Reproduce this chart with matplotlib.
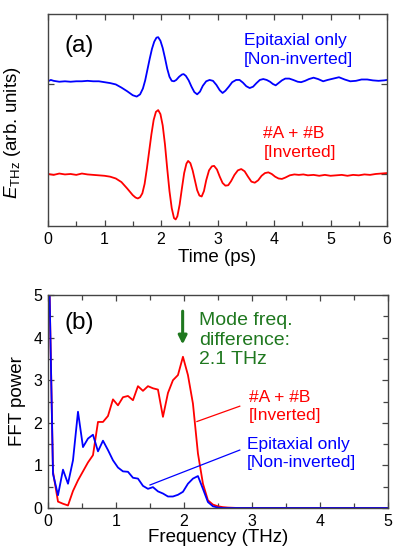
import numpy as np
import matplotlib
matplotlib.use("Agg")
import matplotlib.pyplot as plt
from matplotlib.ticker import MultipleLocator, FixedLocator

plt.rcParams['font.family'] = ['Liberation Sans', 'DejaVu Sans']
plt.rcParams['mathtext.fontset'] = 'custom'
plt.rcParams['mathtext.rm'] = 'Liberation Sans'
plt.rcParams['mathtext.it'] = 'Liberation Sans:italic'

# ---------------- Panel (a): time-domain waveforms ----------------
time_red = [0.00, 0.10, 0.20, 0.30, 0.40, 0.50, 0.60, 0.70, 0.80, 0.90, 1.00, 1.10, 1.20, 1.30,
            1.40, 1.50, 1.55, 1.59, 1.63, 1.67, 1.71, 1.75, 1.79, 1.83, 1.87, 1.91, 1.95, 1.99,
            2.03, 2.07, 2.11, 2.15, 2.19, 2.23, 2.26, 2.29, 2.33, 2.37, 2.41, 2.45, 2.48, 2.52,
            2.56, 2.60, 2.64, 2.68, 2.72, 2.76, 2.80, 2.85, 2.90, 2.94, 2.99, 3.04, 3.09, 3.14,
            3.19, 3.24, 3.30, 3.36, 3.42, 3.48, 3.54, 3.60, 3.66, 3.72, 3.78, 3.84, 3.90, 3.96,
            4.02, 4.08, 4.14, 4.20, 4.28, 4.36, 4.44, 4.52, 4.60, 4.70, 4.80, 4.90, 5.00, 5.10,
            5.20, 5.30, 5.40, 5.50, 5.60, 5.70, 5.80, 5.90, 6.00]
e_red = [0.00, -0.01, 0.005, -0.005, 0.00, -0.01, 0.005, -0.005, -0.01, -0.015, -0.02, -0.03,
         -0.05, -0.09, -0.16, -0.235, -0.262, -0.272, -0.258, -0.215, -0.11, 0.06, 0.25, 0.44,
         0.60, 0.69, 0.71, 0.665, 0.54, 0.33, 0.06, -0.19, -0.38, -0.49, -0.505, -0.47, -0.34,
         -0.16, 0.01, 0.115, 0.145, 0.12, 0.04, -0.07, -0.18, -0.24, -0.25, -0.19, -0.07, 0.04,
         0.085, 0.09, 0.05, -0.03, -0.10, -0.13, -0.125, -0.08, -0.01, 0.04, 0.055, 0.03, -0.03,
         -0.085, -0.097, -0.07, -0.02, 0.01, 0.018, 0.0, -0.03, -0.05, -0.055, -0.04, -0.015,
         -0.005, -0.01, -0.005, -0.015, -0.01, -0.02, -0.01, -0.02, -0.015, -0.01, -0.02, -0.01,
         -0.015, -0.005, -0.01, 0.0, 0.005, 0.01]

time_blue = [0.00, 0.05, 0.10, 0.20, 0.30, 0.40, 0.50, 0.60, 0.70, 0.80, 0.90, 1.00, 1.10, 1.20,
             1.30, 1.40, 1.50, 1.57, 1.63, 1.68, 1.72, 1.76, 1.80, 1.84, 1.88, 1.92, 1.95, 1.99,
             2.03, 2.07, 2.11, 2.15, 2.19, 2.23, 2.27, 2.32, 2.37, 2.40, 2.44, 2.49, 2.54, 2.59,
             2.64, 2.69, 2.74, 2.80, 2.86, 2.92, 2.98, 3.04, 3.09, 3.14, 3.20, 3.26, 3.33, 3.39,
             3.45, 3.51, 3.57, 3.63, 3.69, 3.75, 3.81, 3.87, 3.93, 3.98, 4.03, 4.08, 4.14, 4.20,
             4.27, 4.34, 4.42, 4.48, 4.55, 4.62, 4.70, 4.78, 4.87, 4.95, 5.05, 5.15, 5.25, 5.35,
             5.45, 5.55, 5.65, 5.75, 5.85, 5.95, 6.00]
e_blue = [0.03, 0.045, 0.035, 0.025, 0.03, 0.025, 0.03, 0.03, 0.035, 0.03, 0.03, 0.02, 0.01,
          -0.005, -0.04, -0.08, -0.125, -0.14, -0.115, -0.05, 0.04, 0.16, 0.28, 0.39, 0.47,
          0.515, 0.52, 0.48, 0.40, 0.29, 0.17, 0.08, 0.035, 0.03, 0.045, 0.08, 0.105, 0.11, 0.09,
          0.04, -0.03, -0.09, -0.115, -0.085, -0.02, 0.03, 0.045, 0.035, -0.01, -0.07, -0.10,
          -0.075, -0.03, 0.02, 0.045, 0.045, 0.015, -0.025, -0.045, -0.03, 0.01, 0.045, 0.055,
          0.045, 0.025, 0.0, -0.015, 0.01, 0.04, 0.06, 0.06, 0.045, 0.025, 0.02, 0.035, 0.055,
          0.07, 0.055, 0.03, 0.045, 0.06, 0.075, 0.05, 0.03, 0.035, 0.05, 0.05, 0.04, 0.035,
          0.04, 0.045]
blue_offset = 1.0

# ---------------- Panel (b): FFT power spectra ----------------
freq = [0.0, 0.0735, 0.147, 0.2205, 0.294, 0.3675, 0.441, 0.5145, 0.588, 0.6615, 0.735,
        0.8085, 0.882, 0.9555, 1.029, 1.1025, 1.176, 1.2495, 1.323, 1.3965, 1.47, 1.5435,
        1.617, 1.6905, 1.764, 1.8375, 1.911, 1.9845, 2.058, 2.1315, 2.205, 2.2785, 2.352,
        2.4255, 2.499, 2.5725, 2.646, 2.7195, 2.793, 5.0]
fft_red = [7.0, 0.85, 0.15, 0.10, 0.06, 0.40, 0.65, 0.86, 1.07, 1.24, 2.02, 2.02, 2.16, 2.55,
           2.41, 2.60, 2.63, 2.53, 2.86, 2.75, 2.86, 2.81, 2.78, 2.14, 2.70, 3.00, 3.12, 3.55,
           3.12, 2.45, 1.28, 0.57, 0.18, 0.08, 0.04, 0.02, 0.01, 0.005, 0.0, 0.0]
fft_blue = [7.0, 0.80, 0.30, 0.90, 0.57, 1.12, 2.26, 1.43, 1.63, 1.72, 1.33, 1.58, 1.36, 1.12,
            0.95, 0.86, 0.85, 0.71, 0.69, 0.52, 0.45, 0.49, 0.39, 0.34, 0.27, 0.27, 0.31, 0.38,
            0.57, 0.69, 0.75, 0.45, 0.14, 0.04, 0.01, 0.0, 0.0, 0.0, 0.0, 0.0]

RED = '#ff0000'
BLUE = '#0000ff'
GREEN = '#1f781f'
SPINE = '#444444'

fig = plt.figure(figsize=(3.93, 5.52), dpi=100)
axa = fig.add_axes([48/393, 1-226/552, 339/393, 212.3/552])
axb = fig.add_axes([48/393, 1-508/552, 340/393, 213/552])

def style(ax):
    for s in ax.spines.values():
        s.set_color(SPINE)
        s.set_linewidth(1.0)
    ax.tick_params(which='both', direction='in', top=True, right=True,
                   color=SPINE, width=0.9, labelsize=11.5, pad=4)
    ax.tick_params(which='major', length=4)
    ax.tick_params(which='minor', length=3.5)

# Panel (a)
axa.plot(time_blue, np.array(e_blue) + blue_offset, color=BLUE, lw=1.3)
axa.plot(time_red, e_red, color=RED, lw=1.3)
axa.set_xlim(0, 6)
axa.set_ylim(-0.578, 1.781)
axa.xaxis.set_major_locator(MultipleLocator(1))
axa.xaxis.set_minor_locator(MultipleLocator(0.5))
axa.yaxis.set_major_locator(FixedLocator([0, blue_offset]))
axa.set_yticklabels([])
style(axa)
axa.set_xlabel('Time (ps)', fontsize=13.5, labelpad=2)
axa.set_ylabel(r'$E_{\rm THz}$ (arb. units)', fontsize=13.5)
axa.yaxis.set_label_coords(-0.075, 0.44)
axa.text(0.05, 0.85, '(a)', transform=axa.transAxes, fontsize=17.5, va='center', ha='left')
axa.text(0.578, 0.83, 'Epitaxial only\n[Non-inverted]', transform=axa.transAxes,
         fontsize=12.5, color=BLUE, va='center', ha='left', linespacing=1.3)
axa.text(0.635, 0.39, '#A + #B\n[Inverted]', transform=axa.transAxes,
         fontsize=12.5, color=RED, va='center', ha='left', linespacing=1.3)

# Panel (b)
axb.plot(freq, fft_red, color=RED, lw=1.3)
axb.plot(freq, fft_blue, color=BLUE, lw=1.3)
axb.set_xlim(0, 5)
axb.set_ylim(0, 5)
axb.xaxis.set_major_locator(MultipleLocator(1))
axb.xaxis.set_minor_locator(MultipleLocator(0.5))
axb.yaxis.set_major_locator(MultipleLocator(1))
axb.yaxis.set_minor_locator(MultipleLocator(0.5))
style(axb)
axb.set_xlabel('Frequency (THz)', fontsize=13.5, labelpad=0)
axb.set_ylabel('FFT power', fontsize=13.5, labelpad=5)
axb.text(0.05, 0.87, '(b)', transform=axb.transAxes, fontsize=17.5, va='center', ha='left')

axb.annotate('', xy=(1.98, 3.84), xytext=(1.98, 4.62),
             arrowprops=dict(arrowstyle='-|>,head_length=0.5,head_width=0.25',
                             color=GREEN, lw=2.2, shrinkA=0, shrinkB=0))
axb.text(2.22, 4.6, 'Mode freq.\ndifference:\n2.1 THz', fontsize=14, color=GREEN,
         va='top', ha='left', linespacing=1.2)

axb.plot([2.19, 2.82], [2.03, 2.39], color=RED, lw=0.9)
axb.text(2.95, 2.38, '#A + #B\n[Inverted]', fontsize=12.5, color=RED, va='center',
         ha='left', linespacing=1.25)
axb.plot([1.50, 2.82], [0.54, 1.36], color=BLUE, lw=0.9)
axb.text(2.92, 1.28, 'Epitaxial only\n[Non-inverted]', fontsize=12.5, color=BLUE,
         va='center', ha='left', linespacing=1.25)

fig.savefig('out.png', dpi=100)
